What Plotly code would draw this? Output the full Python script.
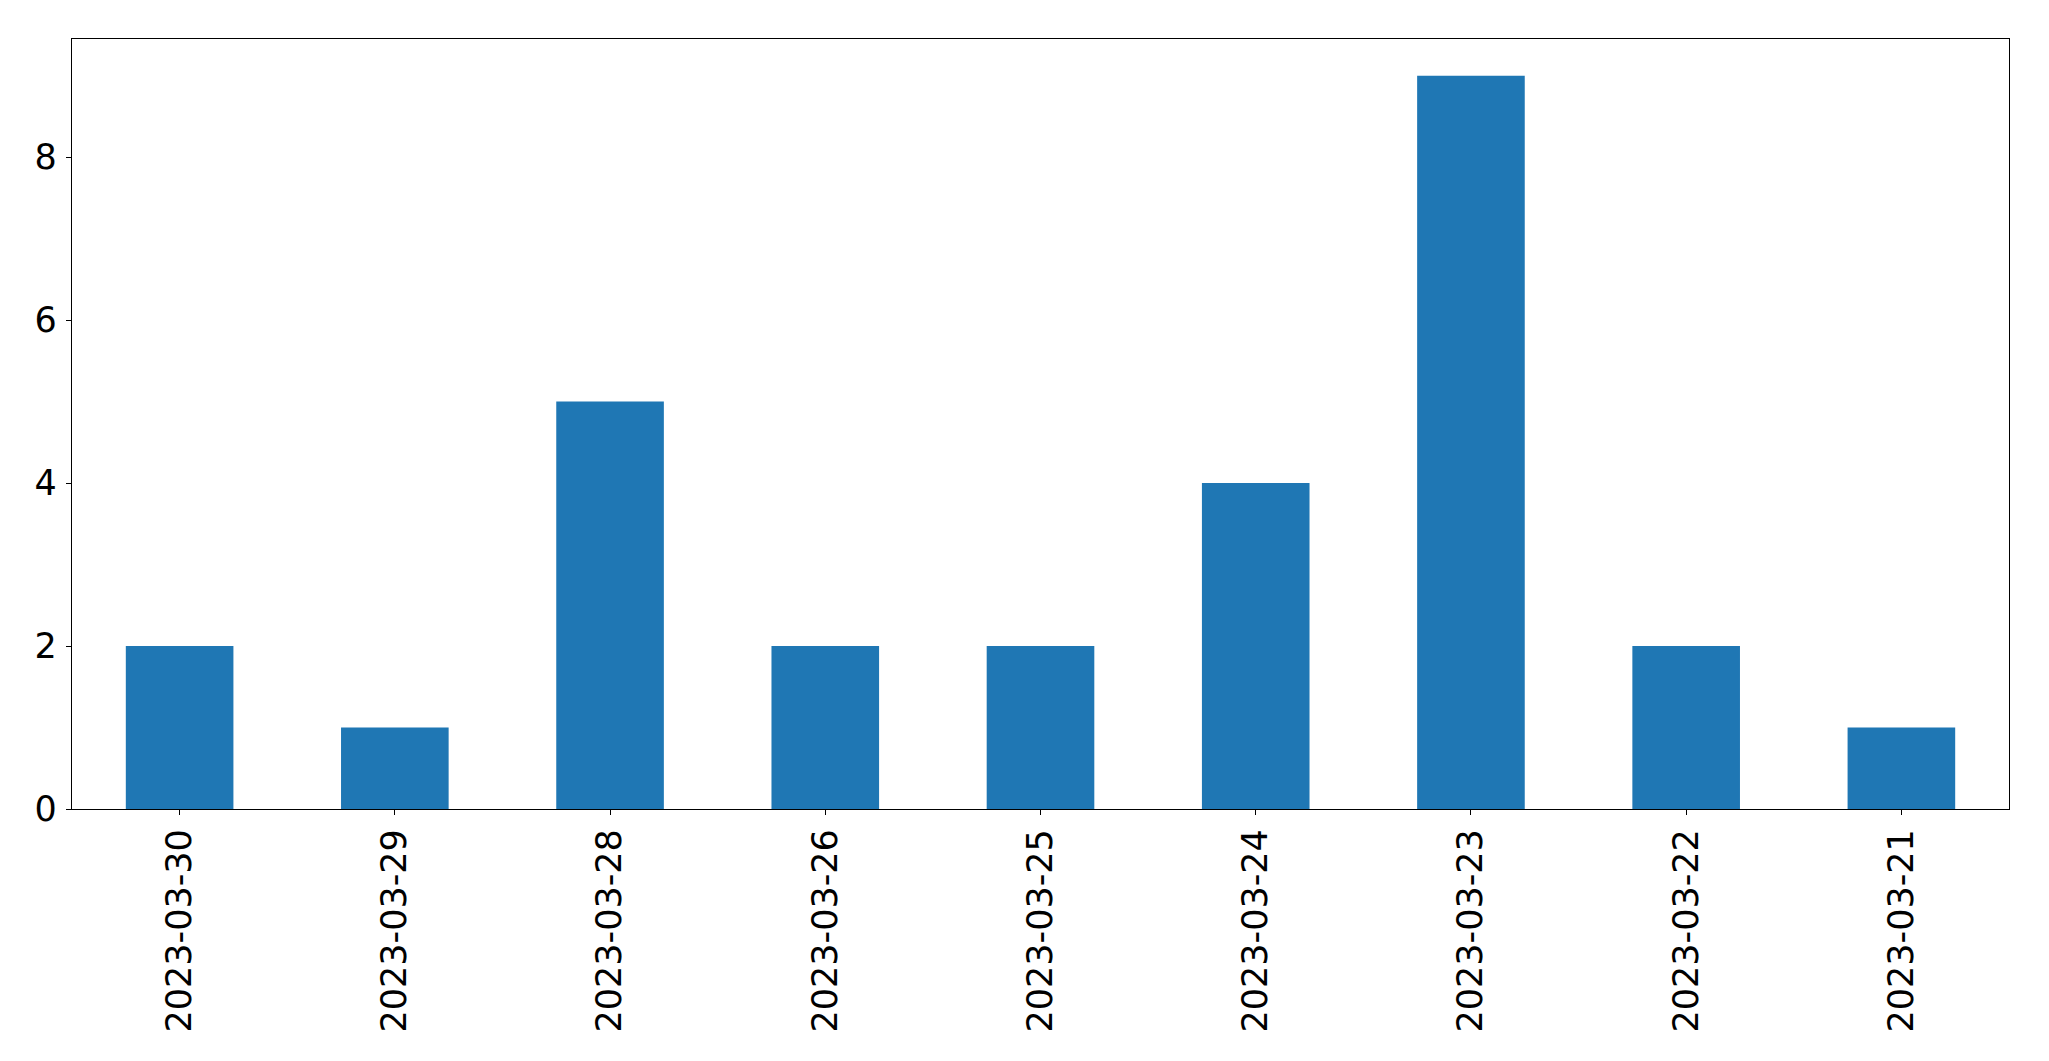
import plotly.graph_objects as go

dates = ["2023-03-30", "2023-03-29", "2023-03-28", "2023-03-26", "2023-03-25",
         "2023-03-24", "2023-03-23", "2023-03-22", "2023-03-21"]
counts = [2, 1, 5, 2, 2, 4, 9, 2, 1]
y_ticks = [0, 2, 4, 6, 8]

fig = go.Figure(go.Bar(x=dates, y=counts, marker_color="#1f77b4",
                       marker_line_width=0, width=0.5))

font = dict(family="DejaVu Sans", size=35, color="black")
fig.update_layout(
    width=2033, height=1045,
    margin=dict(l=64, r=32, t=31, b=244),
    plot_bgcolor="white", paper_bgcolor="white",
    showlegend=False, font=font,
)
fig.update_xaxes(type="category", range=[-0.5, 8.5], tickangle=-90,
                 showline=True, linecolor="black", linewidth=1.3, mirror=True,
                 ticks="outside", ticklen=5, tickcolor="black", tickwidth=1.3,
                 showgrid=False, tickfont=font, ticklabelstandoff=0)
fig.update_yaxes(range=[0, 9.45], tickvals=y_ticks,
                 showline=True, linecolor="black", linewidth=1.3, mirror=True,
                 ticks="outside", ticklen=5, tickcolor="black", tickwidth=1.3,
                 showgrid=False, zeroline=False, tickfont=font, ticklabelstandoff=2)

fig.write_html("out.html")
